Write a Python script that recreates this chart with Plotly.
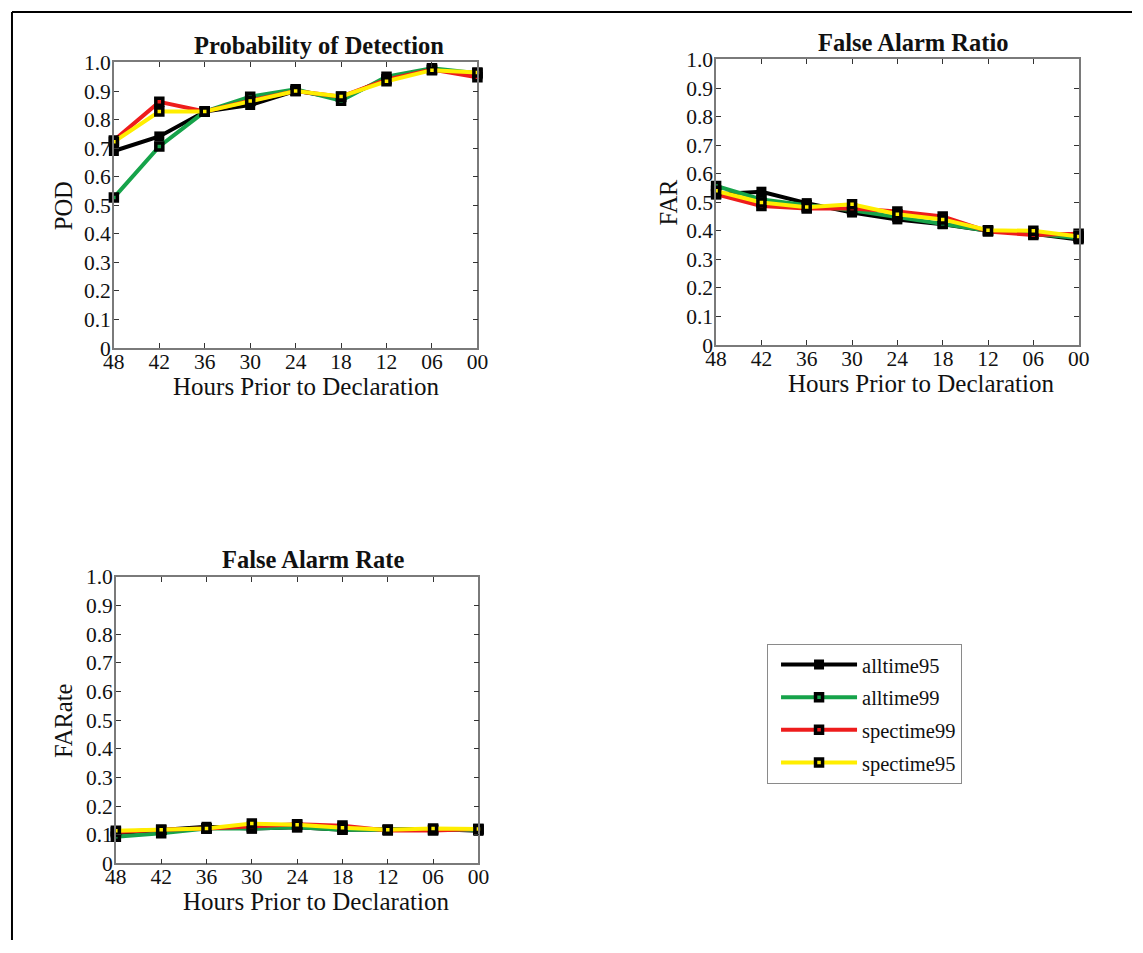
import plotly.graph_objects as go

W, H = 1143, 953

# Page placement of the figure: page = offset + scale * figure pixel.
# Positions below are given in page pixels and converted with px_x / px_y.
OX, SX = 10.0, 0.982
OY, SY = 11.5, 0.976


def px_x(x):
    return ((x - OX) / SX) / W


def px_y(y):
    return 1 - ((y - OY) / SY) / H


hours = ["48", "42", "36", "30", "24", "18", "12", "06", "00"]
y_ticks = [0, 0.1, 0.2, 0.3, 0.4, 0.5, 0.6, 0.7, 0.8, 0.9, 1.0]
y_tick_labels = ["0", "0.1", "0.2", "0.3", "0.4", "0.5", "0.6", "0.7", "0.8", "0.9", "1.0"]

series_names = ["alltime95", "alltime99", "spectime99", "spectime95"]
series_colors = ["#000000", "#16a34a", "#ee1c1c", "#ffee00"]

# Probability of Detection
pod_alltime95 = [0.690, 0.741, 0.828, 0.851, 0.901, 0.875, 0.942, 0.975, 0.958]
pod_alltime99 = [0.527, 0.706, 0.828, 0.880, 0.906, 0.866, 0.950, 0.980, 0.962]
pod_spectime99 = [0.727, 0.862, 0.828, 0.866, 0.900, 0.880, 0.940, 0.975, 0.948]
pod_spectime95 = [0.722, 0.828, 0.828, 0.865, 0.900, 0.881, 0.934, 0.973, 0.965]

# False Alarm Ratio
far_alltime95 = [0.528, 0.537, 0.497, 0.464, 0.440, 0.423, 0.400, 0.390, 0.370]
far_alltime99 = [0.557, 0.510, 0.490, 0.472, 0.448, 0.425, 0.400, 0.390, 0.375]
far_spectime99 = [0.528, 0.487, 0.478, 0.478, 0.468, 0.450, 0.398, 0.385, 0.390]
far_spectime95 = [0.540, 0.499, 0.483, 0.493, 0.458, 0.440, 0.402, 0.400, 0.380]

# False Alarm Rate
farate_alltime95 = [0.105, 0.116, 0.128, 0.122, 0.126, 0.118, 0.118, 0.120, 0.114]
farate_alltime99 = [0.093, 0.105, 0.122, 0.122, 0.126, 0.118, 0.118, 0.118, 0.117]
farate_spectime99 = [0.110, 0.118, 0.122, 0.128, 0.137, 0.132, 0.115, 0.115, 0.120]
farate_spectime95 = [0.114, 0.118, 0.122, 0.139, 0.135, 0.125, 0.118, 0.122, 0.120]

# box = (left, top, right, bottom) in page pixels; title_cx / xlabel_cx = text centres
panels = [
    dict(title="Probability of Detection", ylabel="POD",
         data=[pod_alltime95, pod_alltime99, pod_spectime99, pod_spectime95],
         box=(113, 63, 477, 349), title_cx=318, xlabel_cx=305, ylabel_x=62),
    dict(title="False Alarm Ratio", ylabel="FAR",
         data=[far_alltime95, far_alltime99, far_spectime99, far_spectime95],
         box=(716, 60, 1079, 346), title_cx=914, xlabel_cx=921, ylabel_x=668),
    dict(title="False Alarm Rate", ylabel="FARate",
         data=[farate_alltime95, farate_alltime99, farate_spectime99, farate_spectime95],
         box=(115, 578, 478, 865), title_cx=312, xlabel_cx=315, ylabel_x=62),
]

FONT = "Liberation Serif, Times New Roman, serif"
AXIS_GRAY = "#7a7a7a"
TEXT = "#111111"

fig = go.Figure()
layout = dict(
    width=W, height=H,
    margin=dict(l=0, r=0, t=0, b=0),
    paper_bgcolor="white", plot_bgcolor="white",
    font=dict(family=FONT, color=TEXT),
    showlegend=True,
    legend=dict(
        x=px_x(767), y=px_y(645), xanchor="left", yanchor="top",
        bordercolor="#8a8a8a", borderwidth=1, bgcolor="white",
        font=dict(family=FONT, size=20.5, color=TEXT),
        itemwidth=76, tracegroupgap=3, indentation=8,
    ),
)

annotations = []
for i, p in enumerate(panels):
    xa = "x" if i == 0 else f"x{i + 1}"
    ya = "y" if i == 0 else f"y{i + 1}"
    xkey = "xaxis" if i == 0 else f"xaxis{i + 1}"
    ykey = "yaxis" if i == 0 else f"yaxis{i + 1}"
    x0, y0, x1, y1 = p["box"]
    common = dict(
        showline=True, linecolor=AXIS_GRAY, linewidth=1.5, mirror="ticks",
        ticks="inside", ticklen=5, tickcolor="#333333", tickwidth=1,
        showgrid=False, zeroline=False,
        tickfont=dict(family=FONT, size=21.5, color=TEXT),
    )
    layout[xkey] = dict(
        common, anchor=ya, domain=[px_x(x0), px_x(x1)],
        type="category", categoryorder="array", categoryarray=hours,
        range=[0, len(hours) - 1], ticklabelstandoff=-7,
    )
    layout[ykey] = dict(
        common, anchor=xa, domain=[px_y(y1), px_y(y0)],
        range=[0, 1], tickvals=y_ticks, ticktext=y_tick_labels,
        ticklabelstandoff=-3,
    )
    for name, color, vals in zip(series_names, series_colors, p["data"]):
        is_black = color == "#000000"
        fig.add_trace(go.Scatter(
            x=hours, y=vals, xaxis=xa, yaxis=ya, name=name,
            mode="lines+markers",
            line=dict(color=color, width=4),
            marker=dict(symbol="square", size=10 if is_black else 7,
                        color="#000000" if is_black else color,
                        line=dict(color="#000000", width=0 if is_black else 3.5)),
            showlegend=(i == 0), legendgroup=name, cliponaxis=False,
        ))
    annotations.append(dict(
        text=f"<b>{p['title']}</b>", xref="paper", yref="paper",
        x=px_x(p["title_cx"]), y=px_y(y0 - 17), showarrow=False,
        font=dict(family=FONT, size=24.5, color=TEXT),
        xanchor="center", yanchor="middle",
    ))
    annotations.append(dict(
        text=p["ylabel"], xref="paper", yref="paper",
        x=px_x(p["ylabel_x"]), y=px_y((y0 + y1) / 2), showarrow=False,
        textangle=-90, font=dict(family=FONT, size=24.5, color=TEXT),
        xanchor="center", yanchor="middle",
    ))
    annotations.append(dict(
        text="Hours Prior to Declaration", xref="paper", yref="paper",
        x=px_x(p["xlabel_cx"]), y=px_y(y1 + 38), showarrow=False,
        font=dict(family=FONT, size=25, color=TEXT),
        xanchor="center", yanchor="middle",
    ))

layout["annotations"] = annotations

# Figure frame along the left and top edges
fx, fy = 1 / W, 1 - 1 / H
frame = dict(type="line", xref="paper", yref="paper",
             line=dict(color="#000000", width=2))
layout["shapes"] = [
    dict(frame, x0=fx, x1=fx, y0=0, y1=fy),
    dict(frame, x0=fx, x1=1, y0=fy, y1=fy),
]

fig.update_layout(**layout)
fig.write_html("out.html")
